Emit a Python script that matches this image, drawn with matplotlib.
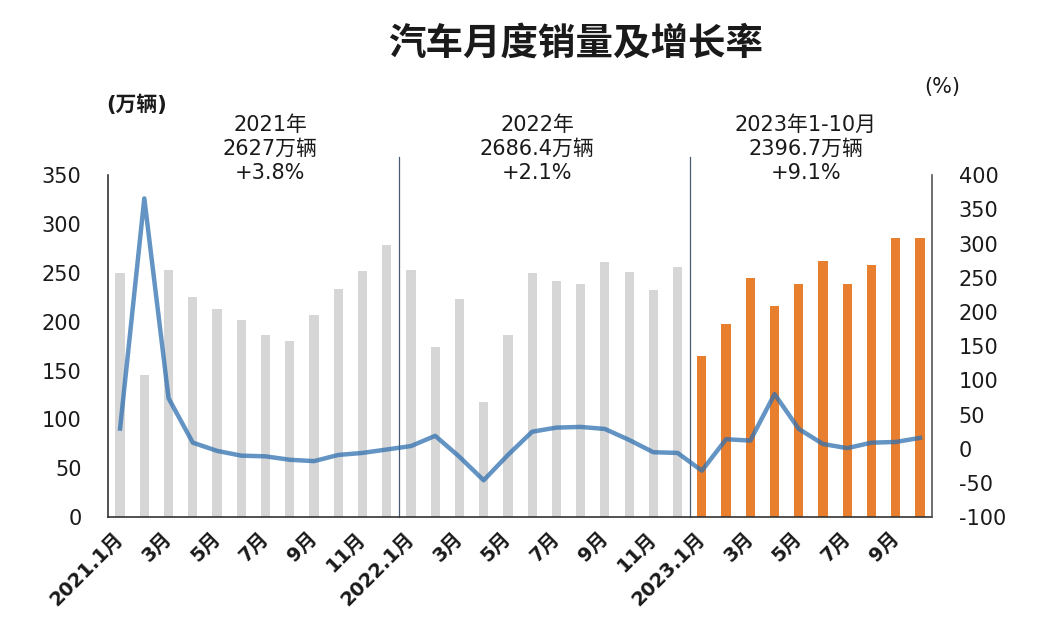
import matplotlib
matplotlib.use("Agg")
import matplotlib.pyplot as plt

plt.rcParams['font.family'] = ['DejaVu Sans', 'Noto Sans CJK SC']
plt.rcParams['axes.unicode_minus'] = False

# ---------- data ----------
sales = [250.3, 145.5, 253.0, 225.2, 212.8, 201.5, 186.3, 180.0, 207.1, 233.3, 252.2, 278.6,
         253.1, 173.7, 223.4, 118.1, 186.2, 250.2, 242.0, 238.3, 261.0, 250.6, 232.5, 255.6,
         164.9, 197.6, 245.1, 215.9, 238.2, 262.2, 238.7, 258.2, 285.8, 285.3]
growth = [29.6, 366, 74, 9, -3, -10, -11, -16, -18, -9, -6, -1,
          4, 19, -11.7, -46, -9, 25, 31, 32, 29, 13, -5, -6,
          -32, 14, 12, 80, 29, 7, 1, 9, 10, 16]
tick_labels = ["2021.1月", "3月", "5月", "7月", "9月", "11月",
               "2022.1月", "3月", "5月", "7月", "9月", "11月",
               "2023.1月", "3月", "5月", "7月", "9月"]
year_notes = ["2021年\n2627万辆\n+3.8%",
              "2022年\n2686.4万辆\n+2.1%",
              "2023年1-10月\n2396.7万辆\n+9.1%"]

GRAY = "#d6d6d6"
ORANGE = "#e87f2e"
BLUE = "#2f70b0"
INK = "#1a1a1a"

n = len(sales)
xs = list(range(n))
bar_colors = [GRAY] * 24 + [ORANGE] * (n - 24)

fig = plt.figure(figsize=(10.38, 6.30), dpi=100)
ax = fig.add_axes([0.104, 0.179, 0.794, 0.543])
ax2 = ax.twinx()

ax.bar(xs, sales, width=0.38, color=bar_colors, zorder=2)
ax.set_xlim(-0.5, n - 0.5)
ax.set_ylim(0, 350)
ax.set_yticks(range(0, 351, 50))

ax2.plot(xs, growth, color=BLUE, lw=3.2, alpha=0.75, solid_joinstyle="round", zorder=3)
ax2.set_ylim(-100, 400)
ax2.set_yticks(range(-100, 401, 50))

# separators between years
for xv in (11.5, 23.5):
    ax.axvline(xv, ymin=0, ymax=1.053, color="#4a5a70", lw=0.9, clip_on=False, zorder=1)

ax.set_xticks(xs[::2])
ax.set_xticklabels(tick_labels, rotation=45, ha="right", va="center",
                   rotation_mode="anchor", fontsize=14, fontweight="bold", color=INK)
ax.tick_params(axis="x", length=0, pad=13)
ax.tick_params(axis="y", length=0, pad=19, labelsize=15, labelcolor=INK)
ax2.tick_params(axis="y", length=0, pad=19, labelsize=15, labelcolor=INK)

for a in (ax, ax2):
    a.spines["top"].set_visible(False)
ax.spines["right"].set_visible(False)
ax2.spines["left"].set_visible(False)
ax2.spines["bottom"].set_visible(False)
ax.spines["left"].set_color("#333333")
ax.spines["bottom"].set_color("#333333")
ax2.spines["right"].set_color("#555555")
ax.spines["left"].set_linewidth(1.2)
ax.spines["bottom"].set_linewidth(1.2)
ax2.spines["right"].set_linewidth(1.2)

# year annotations
for xpix, txt in zip((270, 537, 806), year_notes):
    fig.text(xpix / 1038, 1 - 149 / 630, txt, ha="center", va="center",
             fontsize=15, color=INK, linespacing=1.25)

fig.text(137 / 1038, 1 - 105 / 630, "(万辆)", ha="center", va="center",
         fontsize=15, fontweight="bold", color=INK)
fig.text(942 / 1038, 1 - 87 / 630, "(%)", ha="center", va="center",
         fontsize=15, color=INK)
fig.text(576 / 1038, 1 - 45 / 630, "汽车月度销量及增长率", ha="center", va="center",
         fontsize=27, fontweight="bold", color=INK)

fig.savefig("out.png", dpi=100, facecolor="white")
